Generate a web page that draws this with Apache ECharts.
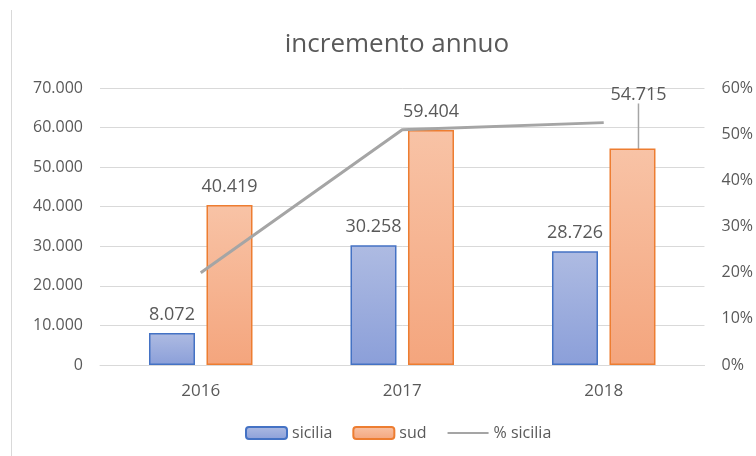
<!DOCTYPE html>
<html>
<head>
<meta charset="utf-8">
<script src="https://cdn.jsdelivr.net/npm/echarts@6/dist/echarts.min.js"></script>
<style>
  html, body { margin: 0; padding: 0; background: #fff; }
  #chart { width: 756px; height: 456px; }
</style>
</head>
<body>
<div id="chart"></div>
<script>
// dati
var anni = ['2016', '2017', '2018'];
var sicilia = [8072, 30258, 28726];
var sud = [40419, 59404, 54715];
var percSicilia = [19.97, 50.94, 52.50];

var FONT = 'Open Sans';
var grigio = '#595959';

// 12345 -> "12.345"
function migliaia(v) {
    return String(v).replace(/\B(?=(\d{3})+(?!\d))/g, '.');
}

var option = {
    animation: false,
    textStyle: { fontFamily: FONT },
    title: {
        text: 'incremento annuo',
        left: 392,
        top: 27,
        textAlign: 'center',
        textStyle: { fontFamily: FONT, fontSize: 26, fontWeight: 'normal', color: grigio }
    },
    legend: {
        bottom: 10,
        left: 240,
        itemWidth: 41,
        itemHeight: 12,
        itemGap: 20,
        textStyle: { fontFamily: FONT, fontSize: 16, color: grigio },
        data: ['sicilia', 'sud', { name: '% sicilia', itemStyle: { opacity: 0 } }]
    },
    grid: { left: 100, right: 46, top: 88, bottom: 91 },
    xAxis: {
        type: 'category',
        data: anni,
        axisTick: { show: false },
        axisLine: { lineStyle: { color: '#d9d9d9' } },
        axisLabel: { color: grigio, fontSize: 17, margin: 18 }
    },
    yAxis: [
        {
            type: 'value',
            min: 0, max: 70000, interval: 10000,
            axisLabel: { color: grigio, fontSize: 16, margin: 17, formatter: migliaia },
            splitLine: { lineStyle: { color: '#d9d9d9' } }
        },
        {
            type: 'value',
            min: 0, max: 60, interval: 10,
            axisLabel: { color: grigio, fontSize: 16, margin: 17, formatter: '{value}%' },
            splitLine: { show: false }
        }
    ],
    series: [
        {
            name: 'sicilia',
            type: 'bar',
            barWidth: 46,
            barGap: '25%',
            itemStyle: {
                color: new echarts.graphic.LinearGradient(0, 0, 0, 1, [
                    { offset: 0, color: '#aebbe2' },
                    { offset: 1, color: '#8b9fd9' }
                ]),
                borderColor: '#4472c4',
                borderWidth: 1.5
            },
            label: {
                show: true, position: 'top', distance: 9,
                color: grigio, fontSize: 18, formatter: function (p) { return migliaia(p.value); }
            },
            data: sicilia
        },
        {
            name: 'sud',
            type: 'bar',
            barWidth: 46,
            itemStyle: {
                color: new echarts.graphic.LinearGradient(0, 0, 0, 1, [
                    { offset: 0, color: '#f8c3a6' },
                    { offset: 1, color: '#f4a57d' }
                ]),
                borderColor: '#ed7d31',
                borderWidth: 1.5
            },
            label: {
                show: true, position: 'top', distance: 9,
                color: grigio, fontSize: 18, formatter: function (p) { return migliaia(p.value); }
            },
            labelLayout: function (p) {
                if (p.dataIndex === 2) return { dx: 6, dy: -36 };
            },
            data: [sud[0], sud[1], {
                value: sud[2],
                labelLine: { show: true, lineStyle: { color: '#a5a5a5', width: 1.5 } }
            }]
        },
        {
            name: '% sicilia',
            type: 'line',
            yAxisIndex: 1,
            symbol: 'none',
            z: 5,
            lineStyle: { color: '#a5a5a5', width: 3 },
            itemStyle: { color: '#a5a5a5' },
            data: percSicilia
        }
    ],
    graphic: [
        { type: 'line', shape: { x1: 11.5, y1: 10, x2: 11.5, y2: 456 }, style: { stroke: '#d9d9d9', lineWidth: 1 } }
    ]
};

var chart = echarts.init(document.getElementById('chart'));
chart.setOption(option);
</script>
</body>
</html>
